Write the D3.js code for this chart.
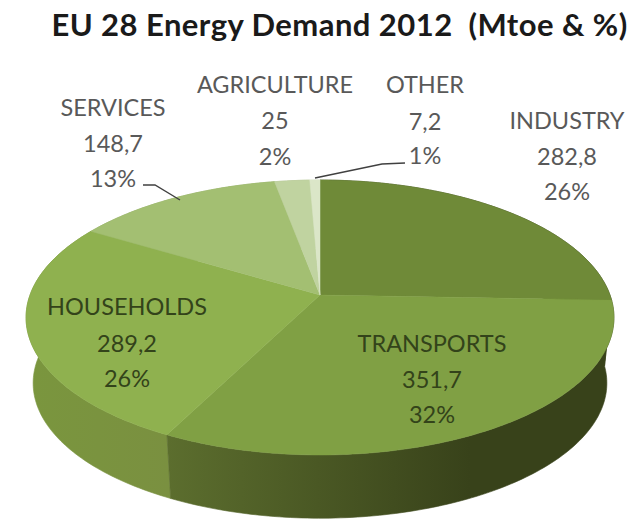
<!DOCTYPE html>
<html>
<head>
<meta charset="utf-8">
<script src="https://cdn.jsdelivr.net/npm/d3@7/dist/d3.min.js"></script>
<style>
  html, body { margin: 0; padding: 0; background: #fff; }
  svg { display: block; }
  text { font-family: Lato, "Open Sans", sans-serif; }
</style>
</head>
<body>
<svg id="chart" width="640" height="521"></svg>
<script>
const chartTitle = "EU 28 Energy Demand 2012  (Mtoe & %)";
const sectors = ["INDUSTRY", "TRANSPORTS", "HOUSEHOLDS", "SERVICES", "AGRICULTURE", "OTHER"];
const mtoe = [282.8, 351.7, 289.2, 148.7, 25, 7.2];
const shareLabels = ["26%", "32%", "26%", "13%", "2%", "1%"];
const valueLabels = ["282,8", "351,7", "289,2", "148,7", "25", "7,2"];

const faceColors = ["#6f8a38", "#80a044", "#8fb14f", "#a3bf72", "#c0d3a0", "#dbe6c8"];
const sideStops = [
  ["#3d4a1b", "#36401a"],
  ["#5c6e2e", "#38421a"],
  ["#7a963e", "#7a9040"],
  ["#8fa860", "#8fa860"],
  ["#a8bb88", "#a8bb88"],
  ["#c0cdaa", "#c0cdaa"]
];

// Label anchors: centre x and the baselines of the three lines.
const labelAnchors = [
  { x: 567, y: [129, 165, 200], fill: "#595959" },
  { x: 432, y: [352, 388, 423], fill: "#33431a" },
  { x: 127, y: [315, 352, 387], fill: "#33431a" },
  { x: 113, y: [116, 152, 187], fill: "#595959" },
  { x: 275, y: [93, 129, 165], fill: "#595959" },
  { x: 425, y: [93, 130, 164], fill: "#595959" }
];
const leaders = [
  { sector: 3, path: [[143, 185], [155, 185], [180, 200]] },
  { sector: 5, path: [[405, 163], [382, 164], [315, 178]] }
];

const svg = d3.select("#chart");
const defs = svg.append("defs");

// The disc is a circle seen in perspective: nearer points are scaled up.
const camera = { k: 0.1636 };
const topDisc = { x: 320, y: 295, a: 290, b: 133.8 };
const bottomDisc = { x: 320, y: 361, a: 283, b: 131.5 };
const project = (disc, angle, r = 1) => {
  const u = r * Math.sin(angle), v = -r * Math.cos(angle);
  const w = 1 - camera.k * v;
  return [disc.x + disc.a * u / w, disc.y + disc.b * v / w];
};

const arcs = d3.pie().sort(null).value(d => d)(mtoe);
const line = d3.line();
const sweep = (a0, a1) => {
  const n = Math.max(2, Math.ceil((a1 - a0) * 60));
  return d3.range(n + 1).map(i => a0 + (a1 - a0) * i / n);
};

// Sides first, nearest slices last; the faces then cover anything behind them.
const drawOrder = [3, 4, 5, 0, 2, 1];
drawOrder.forEach(i => {
  const d = arcs[i];
  const outline = sweep(d.startAngle, d.endAngle);
  const pts = outline.map(a => project(topDisc, a))
    .concat(outline.slice().reverse().map(a => project(bottomDisc, a)));
  const xs = d3.extent(pts, p => p[0]);
  const grad = defs.append("linearGradient")
    .attr("id", "side" + i)
    .attr("gradientUnits", "userSpaceOnUse")
    .attr("x1", i === 1 ? 165 : xs[0]).attr("x2", i === 1 ? 470 : xs[1])
    .attr("y1", 0).attr("y2", 0);
  grad.append("stop").attr("offset", 0).attr("stop-color", sideStops[i][0]);
  grad.append("stop").attr("offset", 1).attr("stop-color", sideStops[i][1]);
  svg.append("path")
    .attr("d", line(pts) + "Z")
    .attr("fill", `url(#side${i})`)
    .attr("stroke", `url(#side${i})`)
    .attr("stroke-width", 0.6);
});

// Top faces.
arcs.forEach((d, i) => {
  const pts = [[topDisc.x, topDisc.y]].concat(sweep(d.startAngle, d.endAngle).map(a => project(topDisc, a)));
  svg.append("path")
    .attr("d", line(pts) + "Z")
    .attr("fill", faceColors[i])
    .attr("stroke", faceColors[i])
    .attr("stroke-width", 0.5);
});

// Leader lines.
leaders.forEach(l => {
  svg.append("path")
    .attr("d", line(l.path))
    .attr("fill", "none")
    .attr("stroke", "#404040")
    .attr("stroke-width", 1.4);
});

// Three-line sector labels.
sectors.forEach((name, i) => {
  const a = labelAnchors[i];
  [name, valueLabels[i], shareLabels[i]].forEach((s, j) => {
    svg.append("text")
      .attr("x", a.x).attr("y", a.y[j])
      .attr("text-anchor", "middle")
      .attr("font-size", 23.5)
      .attr("fill", a.fill)
      .text(s);
  });
});

svg.append("text")
  .attr("x", 339.5).attr("y", 36)
  .attr("text-anchor", "middle")
  .attr("font-size", 31)
  .attr("letter-spacing", 0.45)
  .attr("font-weight", 700)
  .attr("fill", "#1a1a1a")
  .style("white-space", "pre")
  .text(chartTitle);
</script>
</body>
</html>
